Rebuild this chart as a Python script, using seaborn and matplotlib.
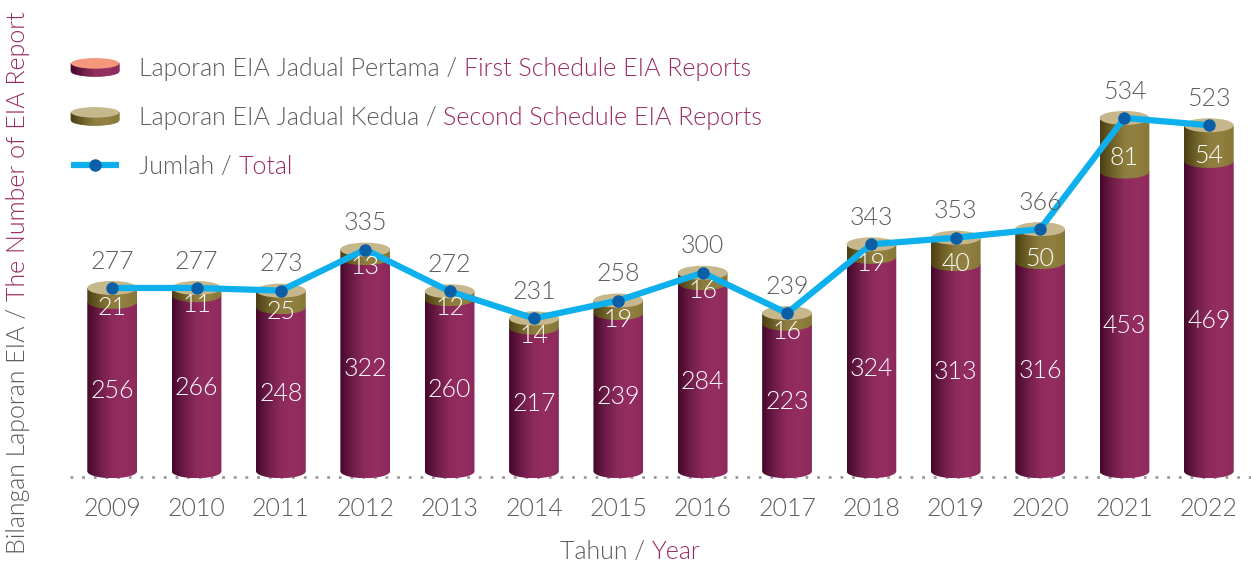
import numpy as np
import pandas as pd
import matplotlib
matplotlib.use("Agg")
import matplotlib.pyplot as plt
import seaborn as sns
from matplotlib.colors import LinearSegmentedColormap
from matplotlib.patches import PathPatch, Ellipse, Polygon
from matplotlib.path import Path
from matplotlib.lines import Line2D
from matplotlib.legend_handler import HandlerBase


# ─────────────────────────────────────────────
# data
# ─────────────────────────────────────────────

years  = ["2009", "2010", "2011", "2012", "2013", "2014", "2015",
          "2016", "2017", "2018", "2019", "2020", "2021", "2022"]
first  = [256, 266, 248, 322, 260, 217, 239, 284, 223, 324, 313, 316, 453, 469]
second = [21, 11, 25, 13, 12, 14, 19, 16, 16, 19, 40, 50, 81, 54]
total  = [277, 277, 273, 335, 272, 231, 258, 300, 239, 343, 353, 366, 534, 523]

df = pd.DataFrame({"year": years, "first": first, "second": second, "total": total})
df["pos"] = np.arange(len(df))

GREY    = "#5b5b5b"
ACCENT  = "#9a2a62"
FS      = 18
LINE_C  = "#0db0ec"
MARK_C  = "#0a5fa6"

maroon_cmap = LinearSegmentedColormap.from_list(
    "maroon", ["#45082a", "#6e1c48", "#8e2a5c", "#952d60", "#8c295a"])
olive_cmap = LinearSegmentedColormap.from_list(
    "olive", ["#4a3f14", "#6f6128", "#8e7d3e", "#918040", "#877737"])
TOP_TAN   = "#c6b88c"
TOP_SALM  = "#f4977a"

sns.set_theme(style="white")
plt.rcParams["font.family"] = ["Lato", "DejaVu Sans"]
plt.rcParams["font.weight"] = 300

W, H = 1251, 565
fig = plt.figure(figsize=(W / 100, H / 100), dpi=100)

# axes placed in pixel terms
px_per_unit = 0.6615
zero_px     = 471.2
ax_bot_px   = 490
ax = fig.add_axes([70 / W, (H - ax_bot_px) / H, (W - 70) / W, ax_bot_px / H])
ax.set_ylim(-(ax_bot_px - zero_px) / px_per_unit, zero_px / px_per_unit)
step = (1211 - 111) / 13
ax.set_xlim(-(111 - 70) / step, 13 + (W - 1211) / step)

BAR_W = 0.59

# stacked bars: total first (olive), then first-schedule over it (maroon)
sns.barplot(data=df, x="year", y="total", color="#8e7d3e", width=BAR_W,
            ax=ax, saturation=1)
n = len(df)
sns.barplot(data=df, x="year", y="first", color="#8e2a5c", width=BAR_W,
            ax=ax, saturation=1)
tot_bars = ax.patches[:n]
fst_bars = ax.patches[n:2 * n]

cap_h = 14 / px_per_unit   # ellipse height in data units
grad = np.linspace(0, 1, 256).reshape(1, -1)


def cylinder(x0, x1, ybot, ytop, cmap, z):
    cx, a, b = (x0 + x1) / 2, (x1 - x0) / 2, cap_h / 2
    th = np.linspace(np.pi, 2 * np.pi, 60)
    verts = [(x0, ytop), (x0, ybot)]
    verts += list(zip(cx + a * np.cos(th), ybot + b * np.sin(th)))
    verts += [(x1, ybot), (x1, ytop), (x0, ytop)]
    clip = PathPatch(Path(verts), transform=ax.transData, facecolor="none",
                     edgecolor="none")
    ax.add_patch(clip)
    im = ax.imshow(grad, cmap=cmap, aspect="auto",
                   extent=(x0, x1, ybot - b, ytop), zorder=z, origin="lower")
    im.set_clip_path(clip)


for tb, fb in zip(tot_bars, fst_bars):
    x0 = tb.get_x()
    x1 = x0 + tb.get_width()
    m = fb.get_height()
    t = tb.get_height()
    tb.set_visible(False)
    fb.set_visible(False)
    cylinder(x0, x1, 0, m, maroon_cmap, 2)
    cylinder(x0, x1, m, t, olive_cmap, 3)
    ax.add_patch(Ellipse(((x0 + x1) / 2, t), x1 - x0, cap_h,
                         facecolor=TOP_TAN, edgecolor="none", zorder=4))

# total line
sns.lineplot(data=df, x="pos", y="total", color=LINE_C, linewidth=4.5,
             marker="o", markersize=9, markerfacecolor=MARK_C,
             markeredgecolor=MARK_C, markeredgewidth=0, ax=ax, zorder=5)

# value labels
for i, row in df.iterrows():
    ax.annotate(str(row["total"]), (row["pos"], row["total"]),
                xytext=(0, 19), textcoords="offset points",
                ha="center", va="center", fontsize=FS, color=GREY, zorder=6)
    ax.text(row["pos"], row["first"] / 2 - 7, str(row["first"]),
            ha="center", va="center", fontsize=FS, color="white", zorder=6)
    ax.text(row["pos"], row["first"] + row["second"] / 2 - 20, str(row["second"]),
            ha="center", va="center", fontsize=FS, color="white", zorder=6)

# baseline
ax.axhline(-8.8, color="#9a9a9a", linewidth=2, linestyle=(0, (1, 3.2)), zorder=1)

sns.despine(ax=ax, left=True, bottom=True)
ax.set_yticks([])
ax.set_xlabel("")
ax.set_ylabel("")
ax.tick_params(axis="x", length=0, pad=5, labelsize=FS, labelcolor=GREY)
ax.grid(False)


# ─────────────────────────────────────────────
# legend with cylinder discs
# ─────────────────────────────────────────────

class CoinHandler(HandlerBase):
    def __init__(self, cmap, top):
        super().__init__()
        self.cmap, self.top = cmap, top

    def create_artists(self, legend, orig_handle, xdescent, ydescent,
                       width, height, fontsize, trans):
        w = width
        cx = w / 2 - xdescent
        cy = height / 2 - ydescent
        b = w * 0.11
        thick = w * 0.16
        ytop, ybot = cy + thick / 2, cy - thick / 2
        arts = []
        edges = np.linspace(-xdescent, w - xdescent, 25)
        for k in range(24):
            xa, xb = edges[k], edges[k + 1]
            xs = np.linspace(xa, xb, 4)
            ys = ybot - b * np.sqrt(np.clip(1 - ((xs - cx) / (w / 2)) ** 2, 0, 1))
            pts = [(xa, ytop)] + list(zip(xs, ys)) + [(xb, ytop)]
            arts.append(Polygon(pts, closed=True, facecolor=self.cmap(k / 23),
                                edgecolor=self.cmap(k / 23), linewidth=0.5,
                                transform=trans))
        arts.append(Ellipse((cx, ytop), w, 2 * b, facecolor=self.top,
                            edgecolor="none", transform=trans))
        return arts


h1 = Line2D([], [], label="c1")
h2 = Line2D([], [], label="c2")
h3 = Line2D([], [], color=LINE_C, linewidth=4.5, marker="o", markersize=9,
            markerfacecolor=MARK_C, markeredgewidth=0, solid_capstyle="butt")
leg_grey   = ["Laporan EIA Jadual Pertama /", "Laporan EIA Jadual Kedua /", "Jumlah /"]
leg_accent = ["First Schedule EIA Reports", "Second Schedule EIA Reports", "Total"]

leg = ax.legend([h1, h2, h3], leg_grey,
                handler_map={h1: CoinHandler(maroon_cmap, TOP_SALM),
                             h2: CoinHandler(olive_cmap, TOP_TAN)},
                loc="upper left", bbox_to_anchor=(71 / W, 1 - 57 / H),
                bbox_transform=fig.transFigure, frameon=False,
                fontsize=FS, labelcolor=GREY, handlelength=1.93,
                handleheight=0.7, handletextpad=0.78, labelspacing=1.0,
                borderpad=0, borderaxespad=0)

fig.canvas.draw()
renderer = fig.canvas.get_renderer()


def text_w(s, **kw):
    t = fig.text(0, 0, s, fontsize=FS, **kw)
    w = t.get_window_extent(renderer).width
    t.remove()
    return w


space = text_w("a a") - text_w("aa")

for txt, extra in zip(leg.get_texts(), leg_accent):
    bb = txt.get_window_extent(renderer)
    fig.text((bb.x1 + space) / W, bb.y0 / H, extra, fontsize=FS, color=ACCENT,
             ha="left", va="bottom")

# x label: "Tahun / Year" centred at x=630
xa, xb = "Tahun /", "Year"
wa, wb = text_w(xa), text_w(xb)
start = 630 - (wa + space + wb) / 2
fig.text(start / W, 1 - 552 / H, xa, fontsize=FS, color=GREY, ha="left", va="center")
fig.text((start + wa + space) / W, 1 - 552 / H, xb, fontsize=FS, color=ACCENT,
         ha="left", va="center")

# y label, rotated, grey part from the bottom then the accent part
ya, yb = "Bilangan Laporan EIA /", "The Number of EIA Report"
wa, wb = text_w(ya), text_w(yb)
ybase = H - (283 + (wa + space + wb) / 2)
fig.text(18 / W, ybase / H, ya, fontsize=FS, color=GREY, rotation=90,
         ha="center", va="bottom")
fig.text(18 / W, (ybase + wa + space) / H, yb, fontsize=FS, color=ACCENT,
         rotation=90, ha="center", va="bottom")

fig.savefig("out.png", dpi=100)
